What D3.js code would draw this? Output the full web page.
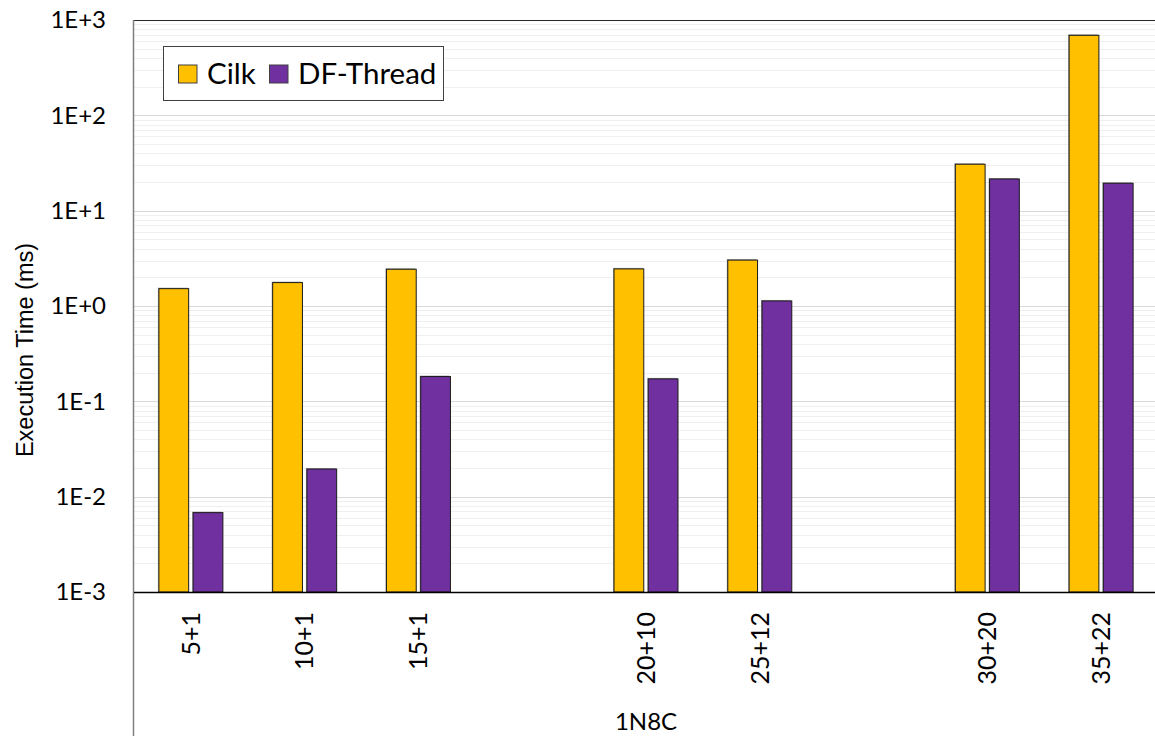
<!DOCTYPE html>
<html>
<head>
<meta charset="utf-8">
<script src="https://cdn.jsdelivr.net/npm/d3@7"></script>
<style>
  html, body { margin: 0; padding: 0; background: #fff; }
  svg { display: block; }
</style>
</head>
<body>
<svg id="chart" width="1155" height="736"></svg>
<script>
// Category slots along the x axis (blank slots separate the groups)
const categories = ["5+1", "10+1", "15+1", "", "20+10", "25+12", "", "30+20", "35+22"];
const groupLabel = "1N8C";
const seriesNames = ["Cilk", "DF-Thread"];
// Execution time in ms, one value per slot (null = empty slot)
const cilk     = [1.52, 1.76, 2.43, null, 2.45, 3.03, null, 30.7, 691];
const dfThread = [0.0068, 0.0195, 0.182, null, 0.172, 1.13, null, 21.5, 19.4];
const yTicks = [1e-3, 1e-2, 1e-1, 1e0, 1e1, 1e2, 1e3];
const yTickLabels = ["1E-3", "1E-2", "1E-1", "1E+0", "1E+1", "1E+2", "1E+3"];
const colors = ["#FFC000", "#7030A0"];

const svg = d3.select("#chart");
const plot = { left: 134, top: 20, right: 1158, bottom: 592 };
const font = "Lato, 'Open Sans', sans-serif";

const x = d3.scaleBand()
  .domain(d3.range(categories.length))
  .range([plot.left, plot.right])
  .paddingInner(0).paddingOuter(0);

const bw = x.bandwidth();
const xSub = d3.scaleBand()
  .domain(seriesNames)
  .range([bw / 2 - 32, bw / 2 + 32])
  .paddingInner(0.13);

const y = d3.scaleLog()
  .domain([1e-3, 1e3])
  .range([plot.bottom, plot.top]);

// Gridlines: minor (2..9 within each decade) then major (decades)
const minor = [];
for (let e = -3; e < 3; e++) for (let m = 2; m <= 9; m++) minor.push(m * Math.pow(10, e));
svg.append("g").selectAll("line").data(minor).join("line")
  .attr("x1", plot.left).attr("x2", plot.right)
  .attr("y1", d => Math.round(y(d)) + 0.5).attr("y2", d => Math.round(y(d)) + 0.5)
  .attr("stroke", "#efefef").attr("stroke-width", 1);
svg.append("g").selectAll("line").data(yTicks).join("line")
  .attr("x1", plot.left).attr("x2", plot.right)
  .attr("y1", d => Math.round(y(d)) + 0.5).attr("y2", d => Math.round(y(d)) + 0.5)
  .attr("stroke", "#d9d9d9").attr("stroke-width", 1);

// Bars
const rows = categories.map((c, i) => ({ i, values: [cilk[i], dfThread[i]] }));
const groups = svg.append("g").selectAll("g").data(rows).join("g")
  .attr("transform", d => `translate(${x(d.i)},0)`);

const barData = d => seriesNames.map((s, k) => ({ s, k, v: d.values[k] })).filter(b => b.v != null);

// soft shadow behind each bar
groups.selectAll("rect.shadow").data(barData).join("rect")
  .attr("class", "shadow")
  .attr("x", b => xSub(b.s) - 1)
  .attr("y", b => y(b.v) - 1)
  .attr("width", xSub.bandwidth())
  .attr("height", b => y(1e-3) - y(b.v) + 1)
  .attr("fill", "#8a8a8a").attr("opacity", 0.7);

groups.selectAll("rect.bar").data(barData).join("rect")
  .attr("class", "bar")
  .attr("x", b => xSub(b.s))
  .attr("y", b => y(b.v))
  .attr("width", xSub.bandwidth())
  .attr("height", b => y(1e-3) - y(b.v))
  .attr("fill", b => colors[b.k])
  .attr("stroke", "#1a1a1a").attr("stroke-width", 1);

// Plot area border (top) and left divider running through the category area
svg.append("line")
  .attr("x1", plot.left).attr("x2", plot.right)
  .attr("y1", plot.top + 0.5).attr("y2", plot.top + 0.5)
  .attr("stroke", "#262626").attr("stroke-width", 1.2);
svg.append("line")
  .attr("x1", plot.left - 0.5).attr("x2", plot.left - 0.5)
  .attr("y1", plot.top).attr("y2", 736)
  .attr("stroke", "#7f7f7f").attr("stroke-width", 1.5);

// Y axis
const yAxis = svg.append("g")
  .attr("transform", `translate(${plot.left},0)`)
  .call(d3.axisLeft(y).tickValues(yTicks)
    .tickFormat((d, i) => yTickLabels[i]).tickSize(0).tickPadding(28));
yAxis.select(".domain").remove();
yAxis.selectAll("text")
  .attr("font-family", font).attr("font-size", 24).attr("fill", "#000");

// X axis
const xAxis = svg.append("g")
  .attr("transform", `translate(0,${plot.bottom})`)
  .call(d3.axisBottom(x).tickFormat(i => categories[i]).tickSize(0));
xAxis.select(".domain")
  .attr("d", `M${plot.left},0.5H${plot.right}`)
  .attr("stroke", "#000").attr("stroke-width", 1.5);
xAxis.selectAll("text")
  .attr("font-family", font).attr("font-size", 25).attr("fill", "#000")
  .attr("transform", "rotate(-90)")
  .attr("text-anchor", "end")
  .attr("x", -20).attr("y", 0).attr("dy", "0.35em");

// Group label beneath the categories
svg.append("text")
  .attr("x", (plot.left + plot.right) / 2)
  .attr("y", 730)
  .attr("text-anchor", "middle")
  .attr("font-family", font).attr("font-size", 24)
  .text(groupLabel);

// Y axis title
svg.append("text")
  .attr("transform", "translate(33,350) rotate(-90)")
  .attr("text-anchor", "middle")
  .attr("font-family", "'Liberation Sans', Arial, sans-serif").attr("font-size", 23.5)
  .text("Execution Time (ms)");

// Legend
const legend = svg.append("g");
legend.append("rect")
  .attr("x", 163.5).attr("y", 46.5).attr("width", 280).attr("height", 54)
  .attr("fill", "#fff").attr("stroke", "#404040").attr("stroke-width", 1);
const legendX = [178.5, 269.5];
seriesNames.forEach((s, k) => {
  legend.append("rect")
    .attr("x", legendX[k]).attr("y", 65).attr("width", 18.5).attr("height", 18)
    .attr("fill", colors[k]).attr("stroke", "#404040").attr("stroke-width", 1);
  legend.append("text")
    .attr("x", legendX[k] + 28.5).attr("y", 83.5)
    .attr("font-family", font).attr("font-size", 29.5)
    .text(s);
});
</script>
</body>
</html>
